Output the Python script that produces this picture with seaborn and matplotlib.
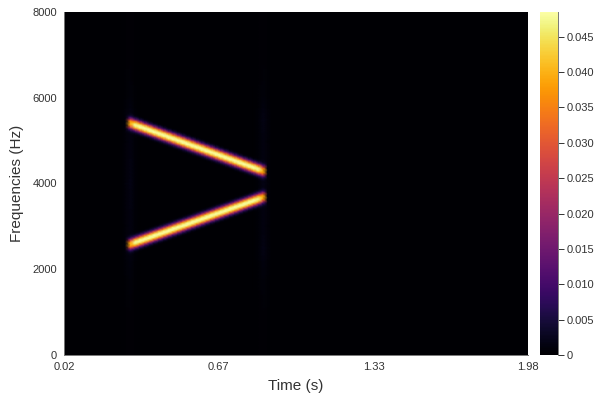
import numpy as np
import pandas as pd
import matplotlib
matplotlib.use("Agg")
import matplotlib.pyplot as plt
import seaborn as sns

# frames and frequency bins of the spectrogram
frame_step = 0.02
n_frames = 99
bin_hz = 31.25
n_bins = 257

# values
ridge_times = [0.30, 0.32, 0.34, 0.36, 0.38, 0.40, 0.42, 0.44, 0.46, 0.48,
               0.50, 0.52, 0.54, 0.56, 0.58, 0.60, 0.62, 0.64, 0.66, 0.68,
               0.70, 0.72, 0.74, 0.76, 0.78, 0.80, 0.82, 0.84, 0.86]
upper_hz = [5410, 5370, 5331, 5291, 5252, 5212, 5172, 5133, 5093, 5054,
            5014, 4974, 4935, 4895, 4855, 4816, 4776, 4737, 4697, 4657,
            4618, 4578, 4538, 4499, 4459, 4420, 4380, 4340, 4300]
lower_hz = [2590, 2629, 2668, 2707, 2746, 2785, 2824, 2863, 2902, 2941,
            2980, 3019, 3058, 3097, 3136, 3175, 3214, 3253, 3292, 3331,
            3370, 3409, 3448, 3487, 3526, 3565, 3604, 3643, 3685]
ridge_amp = [0.038, 0.047, 0.0485, 0.0485, 0.0485, 0.0485, 0.0485, 0.0485, 0.0485, 0.0485,
             0.0485, 0.0485, 0.0485, 0.0485, 0.0485, 0.0485, 0.0485, 0.0485, 0.0485, 0.0485,
             0.0485, 0.0485, 0.0485, 0.0485, 0.0485, 0.0485, 0.0485, 0.047, 0.038]
# falloff across a ridge
offset_hz = [0, 30, 60, 95, 125, 155, 190, 220, 250]
falloff = [1.0, 0.98, 0.86, 0.6, 0.33, 0.15, 0.05, 0.015, 0.0]
# faint broadband stripes at the onset and the offset
stripe_times = [0.28, 0.30, 0.32, 0.84, 0.86, 0.88]
stripe_gain = [0.5, 1.0, 0.35, 0.35, 1.0, 0.5]
stripe_hz = [0, 1000, 2000, 2500, 3000, 4000, 5000, 5500, 6000, 7000, 8000]
stripe_level = [0.0002, 0.0004, 0.0009, 0.0016, 0.0012, 0.0016, 0.0012, 0.0016, 0.0008, 0.0003, 0.0002]
background = 0.00015

y_ticks = [0, 2000, 4000, 6000, 8000]
x_ticks = [0.02, 0.67, 1.33, 1.98]
cbar_ticks = [0, 0.005, 0.01, 0.015, 0.02, 0.025, 0.03, 0.035, 0.04, 0.045]
cbar_labels = ["0", "0.005", "0.010", "0.015", "0.020", "0.025", "0.030", "0.035", "0.040", "0.045"]

times = 0.02 + frame_step * np.arange(n_frames)
freqs = bin_hz * np.arange(n_bins)

power = np.full((n_bins, n_frames), background)
for t, gain in zip(stripe_times, stripe_gain):
    col = int(round((t - 0.02) / frame_step))
    power[:, col] += gain * np.interp(freqs, stripe_hz, stripe_level)
for i, t in enumerate(ridge_times):
    col = int(round((t - 0.02) / frame_step))
    for ridge in (upper_hz[i], lower_hz[i]):
        dist = np.abs(freqs - ridge)
        power[:, col] += ridge_amp[i] * np.interp(dist, offset_hz, falloff)

spec_df = pd.DataFrame(power, index=freqs, columns=np.round(times, 2))

text_col = "#333333"
line_col = "#777777"
plt.rcParams["font.family"] = ["Liberation Sans", "DejaVu Sans"]

fig = plt.figure(figsize=(6, 4), dpi=100)
ax = fig.add_axes([64 / 600, 1 - 355 / 400, 464 / 600, 343 / 400])
cax = fig.add_axes([540 / 600, 1 - 355 / 400, 18 / 600, 343 / 400])

sns.heatmap(spec_df, ax=ax, cbar_ax=cax, cmap="inferno", vmin=0, vmax=0.0485,
            shading="gouraud", xticklabels=False, yticklabels=False)

# heatmap flips y and pads for flat cells, gouraud needs the node range
ax.set_xlim(0, n_frames - 1)
ax.set_ylim(0, n_bins - 1)
ax.set_xticks([(t - 0.02) / frame_step for t in x_ticks])
ax.set_xticklabels([f"{t:.2f}" for t in x_ticks], rotation=0)
ax.set_yticks([f / bin_hz for f in y_ticks])
ax.set_yticklabels([str(f) for f in y_ticks], rotation=0)
ax.tick_params(length=0, labelsize=8, labelcolor=text_col, pad=5)
ax.set_xlabel("Time (s)", fontsize=11, color=text_col, labelpad=5)
ax.set_ylabel("Frequencies (Hz)", fontsize=11, color=text_col, labelpad=6)
for side in ["left", "bottom"]:
    ax.spines[side].set_visible(True)
    ax.spines[side].set_color(line_col)
    ax.spines[side].set_linewidth(0.7)

cax.set_yticks(cbar_ticks)
cax.set_yticklabels(cbar_labels)
cax.tick_params(length=4, width=0.7, color=text_col, labelsize=8, labelcolor=text_col, pad=2)
cax.spines["right"].set_visible(True)
cax.spines["right"].set_color(line_col)
cax.spines["right"].set_linewidth(0.7)

fig.savefig("out.png", dpi=100)
